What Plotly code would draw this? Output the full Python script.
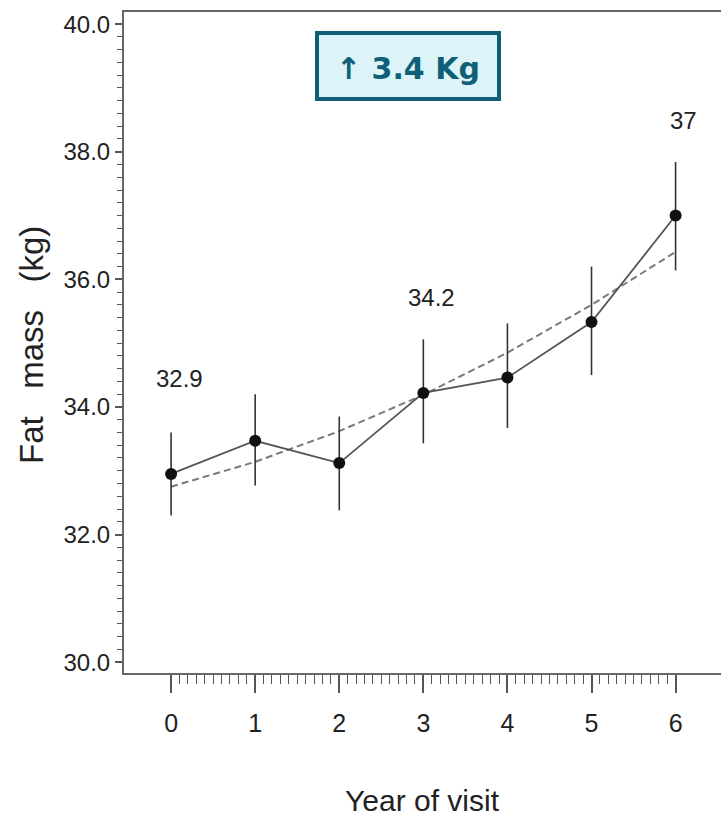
import numpy as np
import plotly.graph_objects as go

# ---- data ----
years = [0, 1, 2, 3, 4, 5, 6]
fat_mass_mean = [32.95, 33.47, 33.12, 34.22, 34.46, 35.33, 37.0]
err_plus = [0.65, 0.73, 0.73, 0.84, 0.85, 0.87, 0.84]
err_minus = [0.65, 0.70, 0.74, 0.79, 0.79, 0.83, 0.86]
fitted = [32.75, 33.14, 33.62, 34.19, 34.85, 35.60, 36.43]
label_years = [0, 3, 6]
label_values = [32.9, 34.2, 37.0]
label_texts = ["32.9", "34.2", "37"]
y_ticks = [30.0, 32.0, 34.0, 36.0, 38.0, 40.0]
x_ticks = [0, 1, 2, 3, 4, 5, 6]
box_text = "↑ 3.4 Kg"

W, H = 721, 825
ML, MR, MT, MB = 124, 0, 12, 152
PW, PH = W - ML - MR, H - MT - MB

NARROW = "Liberation Sans Narrow, Arial Narrow, Liberation Sans, Arial"

fig = go.Figure()

fig.add_trace(go.Scatter(
    x=years, y=fitted, mode="lines",
    line=dict(color="#7a7a7a", width=2, dash="7px,4px"),
    hoverinfo="skip", showlegend=False))

fig.add_trace(go.Scatter(
    x=years, y=fat_mass_mean, mode="lines+markers",
    line=dict(color="#555555", width=1.8),
    marker=dict(color="#111111", size=12),
    error_y=dict(type="data", symmetric=False, array=err_plus, arrayminus=err_minus,
                 color="#333333", thickness=1.6, width=0),
    showlegend=False))

# value labels
for yr, val, txt in zip(label_years, label_values, label_texts):
    idx = years.index(yr)
    fig.add_annotation(x=yr, y=fat_mass_mean[idx], text=txt, showarrow=False,
                       xshift=8, yshift=95, xanchor="center", yanchor="middle",
                       font=dict(family=NARROW, size=24, color="#222222"))

minor_x = [round(v, 1) for v in np.arange(0, 6.0001, 0.1) if abs(v - round(v)) > 1e-6]

fig.update_xaxes(
    range=[-0.56, 6.54], showline=True, linecolor="#666666", linewidth=2, mirror=True,
    showgrid=False, zeroline=False,
    tickmode="array", tickvals=x_ticks, ticktext=[str(t) for t in x_ticks],
    ticks="outside", ticklen=18, tickwidth=1.5, tickcolor="#555555",
    ticklabelstandoff=9,
    tickfont=dict(family="Liberation Sans, Arial", size=25, color="#222222"),
    minor=dict(tickmode="array", tickvals=minor_x, ticks="outside", ticklen=9,
               tickwidth=1.2, tickcolor="#555555", showgrid=False),
)
fig.update_yaxes(
    range=[29.83, 40.19], showline=True, linecolor="#666666", linewidth=2,
    showgrid=False, zeroline=False,
    tickmode="array", tickvals=y_ticks, ticktext=[f"{t:.1f}" for t in y_ticks],
    ticks="outside", ticklen=7, tickwidth=1.5, tickcolor="#555555",
    tickfont=dict(family=NARROW, size=24, color="#222222"),
    minor=dict(dtick=0.2, tick0=30, ticks="outside", ticklen=5, tickwidth=1.2,
               tickcolor="#555555", showgrid=False),
)

# axis titles
fig.add_annotation(xref="paper", yref="paper", x=0.5, y=-(800 - (MT + PH)) / PH,
                   text="Year of visit", showarrow=False, xanchor="center", yanchor="middle",
                   font=dict(family="Liberation Sans, Arial", size=30, color="#222222"))
fig.add_annotation(xref="paper", yref="paper", x=-(124 - 31) / PW, y=(MT + PH - 345) / PH,
                   text="Fat\u00a0\u00a0\u00a0mass\u00a0\u00a0\u00a0(kg)", textangle=-90, showarrow=False,
                   xanchor="center", yanchor="middle",
                   font=dict(family="Liberation Sans, Arial", size=33, color="#222222"))

# highlighted box
bx0, bx1, by0, by1 = 317, 499, 33, 99
fig.add_shape(type="rect", xref="paper", yref="paper",
              x0=(bx0 - ML) / PW, x1=(bx1 - ML) / PW,
              y0=(MT + PH - by1) / PH, y1=(MT + PH - by0) / PH,
              line=dict(color="#0f5f78", width=4), fillcolor="#dcf4f8", layer="above")
fig.add_annotation(xref="paper", yref="paper", x=((bx0 + bx1) / 2 - ML) / PW,
                   y=(MT + PH - (by0 + by1) / 2 - 2) / PH, text=f"<b>{box_text}</b>",
                   showarrow=False, xanchor="center", yanchor="middle",
                   font=dict(family="DejaVu Sans, Noto Sans", size=30, color="#0f5f78"))

fig.update_layout(
    width=W, height=H, margin=dict(l=ML, r=MR, t=MT, b=MB, autoexpand=False),
    plot_bgcolor="white", paper_bgcolor="white",
)

fig.write_html("out.html")
